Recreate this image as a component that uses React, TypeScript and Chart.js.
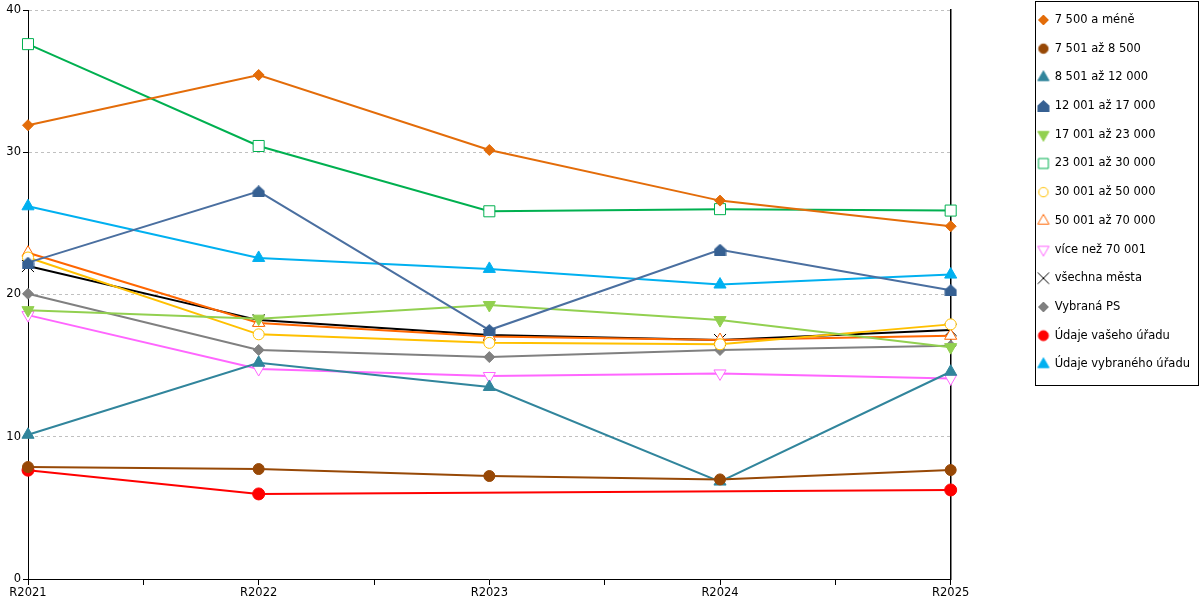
import { useEffect, useRef } from 'react';
import { Chart, registerables, ChartConfiguration, Plugin } from 'chart.js';
import { drawPoint } from 'chart.js/helpers';

Chart.register(...registerables);

// categories (x) and values
const categories = ['R2021', 'R2022', 'R2023', 'R2024', 'R2025'];
const xTicks = [0, 0.5, 1, 1.5, 2, 2.5, 3, 3.5, 4];
const yTicks = [0, 10, 20, 30, 40];

const s7500 = [31.9, 35.43, 30.16, 26.6, 24.8];
const s8500 = [7.87, 7.73, 7.24, 7.0, 7.66];
const s12000 = [10.14, 15.2, 13.5, 6.85, 14.57];
const s17000 = [22.24, 27.25, 17.5, 23.15, 20.3];
const s23000 = [18.9, 18.3, 19.26, 18.2, 16.3];
const s30000 = [37.6, 30.44, 25.85, 26.0, 25.9];
const s50000 = [22.6, 17.2, 16.6, 16.5, 17.9];
const s70000 = [22.94, 18.0, 17.05, 16.8, 17.1];
const sOver70 = [18.55, 14.76, 14.27, 14.45, 14.1];
const sAll = [22.0, 18.2, 17.15, 16.8, 17.5];
const sPS = [20.05, 16.1, 15.6, 16.1, 16.4];
const sOffice = [7.65, 5.98, null, null, 6.26];
const sSelected = [26.2, 22.57, 21.8, 20.7, 21.4];

const FONT = 'DejaVu Sans';

// marker shaped like a house (pentagon), not built into chart.js
function makeHouse(color: string) {
    const c = document.createElement('canvas');
    c.width = 13;
    c.height = 12;
    const ctx = c.getContext('2d');
    if (ctx) {
        ctx.fillStyle = color;
        ctx.beginPath();
        ctx.moveTo(0.5, 5.5);
        ctx.lineTo(6.5, 0);
        ctx.lineTo(12.5, 5.5);
        ctx.lineTo(12.5, 12);
        ctx.lineTo(0.5, 12);
        ctx.closePath();
        ctx.fill();
    }
    return c;
}

// small legend marker drawn with chart.js's own point helper
function makeMarker(style: any, radius: number, fill: string, stroke: string, rotation = 0) {
    if (typeof style !== 'string') return style;
    const c = document.createElement('canvas');
    c.width = 18;
    c.height = 18;
    const ctx = c.getContext('2d');
    if (ctx) {
        ctx.fillStyle = fill;
        ctx.strokeStyle = stroke;
        ctx.lineWidth = 1;
        drawPoint(ctx, { pointStyle: style, radius, rotation, borderWidth: 1 } as any, 9, 9);
    }
    return c;
}

const toPoints = (vals: (number | null)[]) => vals.map((y, i) => ({ x: i, y }));

// border around the legend
const legendBox: Plugin<'line'> = {
    id: 'legendBox',
    afterDraw(chart) {
        const legend: any = chart.legend;
        if (!legend || !legend.legendHitBoxes || !legend.legendHitBoxes.length) return;
        const hb = legend.legendHitBoxes;
        const first = hb[0];
        const last = hb[hb.length - 1];
        const ctx = chart.ctx;
        const left = first.left - 2.5;
        const top = first.top - 13;
        const right = chart.width - 1.5;
        const bottom = last.top + 27;
        ctx.save();
        ctx.strokeStyle = '#000';
        ctx.lineWidth = 1;
        ctx.strokeRect(Math.round(left) + 0.5, Math.round(top) + 0.5, Math.round(right - left), Math.round(bottom - top));
        ctx.restore();
    },
};

const LineChart: React.FC = () => {
    const canvasRef = useRef<HTMLCanvasElement | null>(null);
    const chartInstance = useRef<Chart<'line'> | null>(null);

    useEffect(() => {
        if (!canvasRef.current) return;
        if (chartInstance.current) chartInstance.current.destroy();

        const house = makeHouse('#366092');
        const legendMarkers: any[] = [];

        const ds = (
            label: string,
            vals: (number | null)[],
            color: string,
            pointStyle: any,
            radius: number,
            fill: string,
            legendRadius: number,
            rotation = 0,
            pointBorderWidth = 1
        ) => {
            legendMarkers.push(makeMarker(pointStyle, legendRadius, fill, color, rotation));
            return {
                label,
                data: toPoints(vals),
                borderColor: color,
                backgroundColor: fill,
                borderWidth: 2,
                pointStyle,
                pointRadius: radius,
                pointHoverRadius: radius,
                pointRotation: rotation,
                pointBackgroundColor: fill,
                pointBorderColor: color,
                pointBorderWidth,
                tension: 0,
                spanGaps: true,
                clip: false as any,
            };
        };

        const chartConfig: ChartConfiguration<'line'> = {
            type: 'line',
            data: {
                datasets: [
                    ds('7 500 a méně', s7500, '#E36C09', 'rectRot', 5.5, '#E36C09', 5),
                    ds('7 501 až 8 500', s8500, '#974806', 'circle', 5.5, '#974806', 4.7),
                    ds('8 501 až 12 000', s12000, '#31859C', 'triangle', 7, '#31859C', 6.5),
                    ds('12 001 až 17 000', s17000, '#4A6FA0', house, 6, '#366092', 6, 0, 0),
                    ds('17 001 až 23 000', s23000, '#92D050', 'triangle', 7, '#92D050', 6.5, 180),
                    ds('23 001 až 30 000', s30000, '#00B050', 'rect', 7.8, '#FFFFFF', 7),
                    ds('30 001 až 50 000', s50000, '#FFC000', 'circle', 5.5, '#FFFFFF', 4.7),
                    ds('50 001 až 70 000', s70000, '#FF6600', 'triangle', 7, '#FFFFFF', 6.5),
                    ds('více než 70 001', sOver70, '#FF66FF', 'triangle', 7, '#FFFFFF', 6.5, 180),
                    ds('všechna města', sAll, '#000000', 'crossRot', 8.5, '#000000', 8),
                    ds('Vybraná PS', sPS, '#808080', 'rectRot', 5.5, '#808080', 5),
                    ds('Údaje vašeho úřadu', sOffice, '#FF0000', 'circle', 6, '#FF0000', 5),
                    ds('Údaje vybraného úřadu', sSelected, '#00B0F0', 'triangle', 7, '#00B0F0', 6.5),
                ],
            },
            options: {
                responsive: true,
                maintainAspectRatio: false,
                animation: false,
                layout: { padding: { top: -3, left: 0, right: 0, bottom: 0 } },
                plugins: {
                    title: { display: false },
                    tooltip: { enabled: false },
                    legend: {
                        position: 'right',
                        align: 'start',
                        labels: {
                            usePointStyle: true,
                            boxWidth: 11,
                            boxHeight: 8,
                            padding: 17.2,
                            color: '#000',
                            font: { family: FONT, size: 11.5 },
                            generateLabels: (chart) => {
                                const items = Chart.defaults.plugins.legend.labels.generateLabels(chart as any);
                                return items.map((it, i) => ({ ...it, pointStyle: legendMarkers[i], rotation: 0 }));
                            },
                        },
                    },
                },
                scales: {
                    x: {
                        type: 'linear',
                        min: 0,
                        max: 4,
                        afterBuildTicks: (scale) => {
                            scale.ticks = xTicks.map((v) => ({ value: v }));
                        },
                        afterFit: (scale) => {
                            scale.height = 21;
                        },
                        ticks: {
                            autoSkip: false,
                            maxRotation: 0,
                            padding: 1,
                            color: '#000',
                            font: { family: FONT, size: 11.5 },
                            callback: (v) => (Number.isInteger(Number(v)) ? categories[Number(v)] : ''),
                        },
                        grid: {
                            display: true,
                            drawOnChartArea: false,
                            drawTicks: true,
                            tickLength: 6,
                            color: '#000',
                        },
                        border: { display: true, color: '#000', width: 1 },
                    },
                    y: {
                        type: 'linear',
                        min: 0,
                        max: 40,
                        afterBuildTicks: (scale) => {
                            scale.ticks = yTicks.map((v) => ({ value: v }));
                        },
                        afterFit: (scale) => {
                            scale.width = 28;
                            scale.paddingTop = 10;
                        },
                        ticks: {
                            padding: 2,
                            color: '#000',
                            font: { family: FONT, size: 11.5 },
                        },
                        grid: {
                            color: '#C0C0C0',
                            tickColor: '#000',
                            tickLength: 5,
                        },
                        border: { display: true, color: '#000', width: 1, dash: [3, 3] },
                    },
                    y2: {
                        type: 'linear',
                        position: 'right',
                        min: 0,
                        max: 40,
                        afterFit: (scale) => {
                            scale.width = 70;
                        },
                        ticks: { display: false },
                        grid: { display: false },
                        border: { display: true, color: '#000', width: 1.5 },
                    },
                },
            },
            plugins: [legendBox],
        };

        chartInstance.current = new Chart(canvasRef.current, chartConfig);

        return () => {
            if (chartInstance.current) {
                chartInstance.current.destroy();
                chartInstance.current = null;
            }
        };
    }, []);

    return <canvas ref={canvasRef} />;
};

export default function App() {
    return (
        <div style={{ position: 'fixed', left: 0, top: 0, width: 1200, height: 600, background: '#fff' }}>
            <LineChart />
        </div>
    );
}
